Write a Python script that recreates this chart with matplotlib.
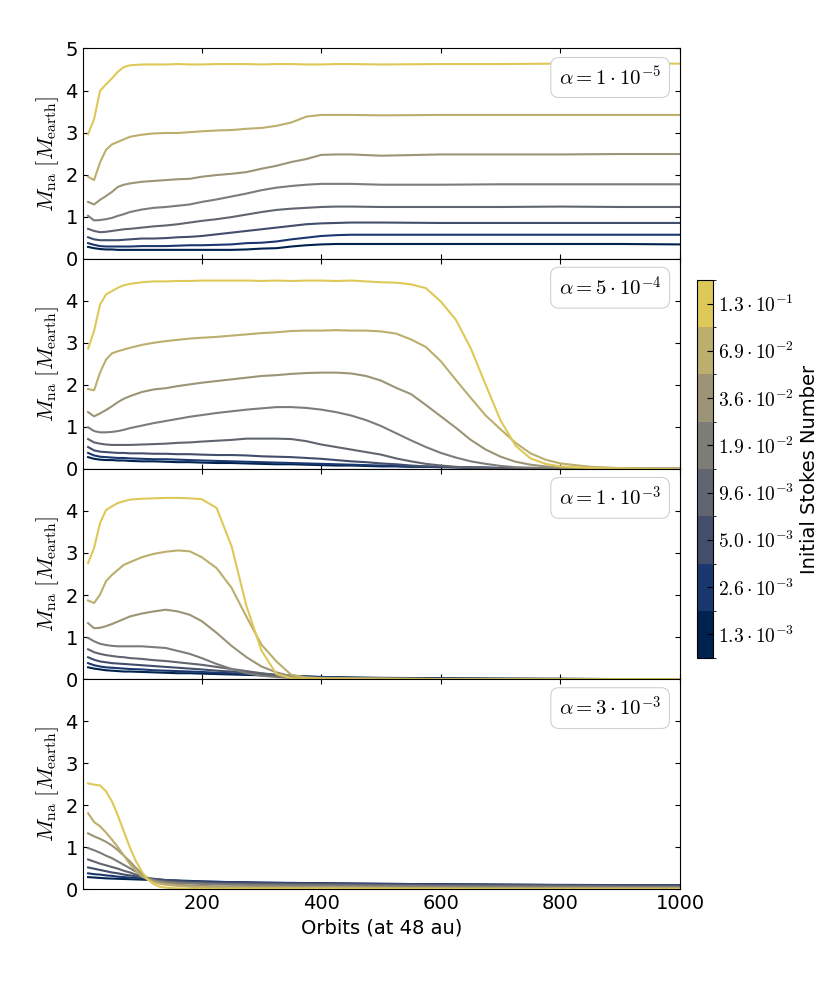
import numpy as np
import matplotlib
matplotlib.use("Agg")
import matplotlib.pyplot as plt
from matplotlib.colors import ListedColormap, BoundaryNorm
from matplotlib.cm import ScalarMappable

plt.rcParams['mathtext.fontset'] = 'cm'
plt.rcParams['font.family'] = ['DejaVu Sans']

# ---------------- data ----------------
stokes_labels = [r'$1.3\cdot10^{-3}$', r'$2.6\cdot10^{-3}$', r'$5.0\cdot10^{-3}$',
                 r'$9.6\cdot10^{-3}$', r'$1.9\cdot10^{-2}$', r'$3.6\cdot10^{-2}$',
                 r'$6.9\cdot10^{-2}$', r'$1.3\cdot10^{-1}$']
alpha_labels = [r'$\alpha = 1\cdot10^{-5}$', r'$\alpha = 5\cdot10^{-4}$',
                r'$\alpha = 1\cdot10^{-3}$', r'$\alpha = 3\cdot10^{-3}$']

# panel 1: alpha = 1e-5
x1 = [10, 20, 30, 40, 50, 60, 70, 80, 100, 120, 140, 160, 180, 200, 225, 250, 275, 300,
      325, 350, 375, 400, 425, 450, 500, 600, 700, 800, 900, 1000]
p1_s1 = [0.28, 0.25, 0.23, 0.22, 0.22, 0.21, 0.21, 0.21, 0.21, 0.21, 0.21, 0.21, 0.21, 0.21, 0.21,
         0.21, 0.22, 0.24, 0.25, 0.29, 0.32, 0.34, 0.35, 0.35, 0.35, 0.35, 0.35, 0.35, 0.35, 0.34]
p1_s2 = [0.37, 0.33, 0.30, 0.29, 0.29, 0.29, 0.29, 0.29, 0.30, 0.30, 0.30, 0.31, 0.32, 0.32, 0.33,
         0.34, 0.37, 0.38, 0.41, 0.46, 0.50, 0.54, 0.56, 0.57, 0.57, 0.57, 0.57, 0.57, 0.57, 0.57]
p1_s3 = [0.51, 0.46, 0.44, 0.44, 0.44, 0.44, 0.45, 0.46, 0.48, 0.48, 0.49, 0.51, 0.52, 0.54, 0.58,
         0.62, 0.66, 0.70, 0.74, 0.78, 0.82, 0.84, 0.85, 0.86, 0.86, 0.85, 0.85, 0.85, 0.85, 0.85]
p1_s4 = [0.71, 0.66, 0.63, 0.64, 0.66, 0.68, 0.70, 0.71, 0.74, 0.77, 0.79, 0.82, 0.86, 0.90, 0.94,
         0.99, 1.05, 1.11, 1.16, 1.19, 1.21, 1.23, 1.24, 1.24, 1.23, 1.23, 1.23, 1.24, 1.23, 1.23]
p1_s5 = [1.02, 0.91, 0.92, 0.94, 0.97, 1.02, 1.06, 1.11, 1.17, 1.21, 1.23, 1.26, 1.29, 1.35, 1.41,
         1.48, 1.55, 1.63, 1.69, 1.73, 1.76, 1.78, 1.78, 1.78, 1.76, 1.76, 1.77, 1.77, 1.77, 1.77]
p1_s6 = [1.35, 1.29, 1.40, 1.49, 1.59, 1.71, 1.76, 1.79, 1.83, 1.85, 1.87, 1.89, 1.90, 1.95, 1.99,
         2.02, 2.06, 2.14, 2.21, 2.30, 2.37, 2.47, 2.48, 2.48, 2.45, 2.48, 2.48, 2.48, 2.49, 2.49]
p1_s7 = [1.95, 1.87, 2.29, 2.59, 2.72, 2.78, 2.84, 2.90, 2.95, 2.98, 2.99, 2.99, 3.01, 3.03, 3.05,
         3.06, 3.09, 3.11, 3.16, 3.24, 3.38, 3.42, 3.42, 3.42, 3.41, 3.42, 3.42, 3.42, 3.42, 3.42]
p1_s8 = [2.96, 3.32, 3.99, 4.15, 4.29, 4.45, 4.56, 4.60, 4.62, 4.62, 4.62, 4.63, 4.62, 4.62, 4.63,
         4.63, 4.63, 4.62, 4.63, 4.63, 4.62, 4.62, 4.63, 4.63, 4.62, 4.63, 4.63, 4.64, 4.64, 4.64]

# panel 2: alpha = 5e-4
x2 = [10, 20, 30, 40, 50, 60, 70, 80, 100, 120, 140, 160, 180, 200, 225, 250, 275, 300, 325,
      350, 375, 400, 425, 450, 475, 500, 525, 550, 575, 600, 625, 650, 675, 700, 725, 750, 775,
      800, 850, 900, 950, 1000]
p2_s1 = [0.28, 0.24, 0.22, 0.21, 0.21, 0.20, 0.20, 0.19, 0.18, 0.18, 0.17, 0.16, 0.16, 0.15,
         0.14, 0.14, 0.13, 0.12, 0.11, 0.11, 0.10, 0.09, 0.08, 0.08, 0.07,
         0.06, 0.06, 0.05, 0.05, 0.04, 0.04, 0.03, 0.03, 0.02, 0.02, 0.02, 0.01, 0.01,
         0.01, 0.0, 0.0, 0.0]
p2_s2 = [0.38, 0.32, 0.29, 0.28, 0.27, 0.26, 0.26, 0.25, 0.24, 0.23, 0.23, 0.22, 0.21, 0.20,
         0.19, 0.18, 0.17, 0.16, 0.15, 0.14, 0.13, 0.12, 0.11, 0.10, 0.09,
         0.08, 0.07, 0.06, 0.05, 0.05, 0.04, 0.03, 0.03, 0.02, 0.02, 0.01, 0.01, 0.01,
         0.0, 0.0, 0.0, 0.0]
p2_s3 = [0.52, 0.44, 0.41, 0.40, 0.39, 0.38, 0.38, 0.37, 0.37, 0.36, 0.36, 0.35, 0.35, 0.34,
         0.33, 0.33, 0.32, 0.30, 0.29, 0.28, 0.26, 0.24, 0.21, 0.18, 0.16,
         0.13, 0.11, 0.08, 0.06, 0.05, 0.04, 0.03, 0.02, 0.02, 0.01, 0.01, 0.01, 0.0,
         0.0, 0.0, 0.0, 0.0]
p2_s4 = [0.71, 0.63, 0.60, 0.58, 0.57, 0.57, 0.57, 0.57, 0.58, 0.59, 0.60, 0.62, 0.63, 0.65,
         0.67, 0.69, 0.72, 0.72, 0.72, 0.71, 0.66, 0.58, 0.52, 0.46, 0.40,
         0.34, 0.25, 0.18, 0.12, 0.08, 0.05, 0.03, 0.02, 0.01, 0.01, 0.0, 0.0, 0.0,
         0.0, 0.0, 0.0, 0.0]
p2_s5 = [0.99, 0.90, 0.87, 0.87, 0.88, 0.90, 0.93, 0.97, 1.03, 1.09, 1.14, 1.19, 1.24, 1.28,
         1.33, 1.37, 1.41, 1.44, 1.47, 1.47, 1.45, 1.41, 1.35, 1.27, 1.16,
         1.02, 0.85, 0.68, 0.52, 0.38, 0.27, 0.18, 0.12, 0.07, 0.04, 0.03, 0.02, 0.01,
         0.0, 0.0, 0.0, 0.0]
p2_s6 = [1.35, 1.25, 1.32, 1.40, 1.49, 1.59, 1.67, 1.73, 1.83, 1.89, 1.92, 1.97, 2.01, 2.05,
         2.09, 2.13, 2.17, 2.21, 2.23, 2.26, 2.28, 2.29, 2.29, 2.27, 2.21,
         2.10, 1.93, 1.78, 1.52, 1.25, 0.98, 0.69, 0.46, 0.29, 0.17, 0.10, 0.06, 0.03,
         0.01, 0.0, 0.0, 0.0]
p2_s7 = [1.90, 1.87, 2.29, 2.60, 2.75, 2.80, 2.84, 2.88, 2.95, 3.00, 3.04, 3.07, 3.10, 3.12,
         3.14, 3.17, 3.20, 3.23, 3.25, 3.28, 3.29, 3.29, 3.30, 3.29, 3.29,
         3.27, 3.22, 3.08, 2.90, 2.56, 2.12, 1.69, 1.27, 0.94, 0.62, 0.37, 0.22, 0.13,
         0.05, 0.02, 0.01, 0.0]
p2_s8 = [2.86, 3.28, 3.91, 4.15, 4.23, 4.31, 4.37, 4.40, 4.44, 4.46, 4.46, 4.47, 4.47, 4.48,
         4.48, 4.48, 4.48, 4.47, 4.48, 4.47, 4.48, 4.48, 4.47, 4.48, 4.46,
         4.44, 4.43, 4.39, 4.30, 3.98, 3.55, 2.87, 2.00, 1.15, 0.55, 0.25, 0.12, 0.06,
         0.02, 0.01, 0.0, 0.0]

# panel 3: alpha = 1e-3
x3 = [10, 20, 30, 40, 50, 60, 70, 80, 100, 120, 140, 160, 180, 200, 225, 250, 275, 300, 325,
      350, 375, 400, 450, 500, 600, 700, 800, 900, 1000]
p3_s1 = [0.28, 0.25, 0.23, 0.21, 0.20, 0.19, 0.18, 0.18, 0.17, 0.16, 0.15, 0.14, 0.14, 0.13,
         0.12, 0.11, 0.10, 0.09, 0.08, 0.07, 0.06, 0.05, 0.04, 0.03, 0.02, 0.01, 0.01, 0.0, 0.0]
p3_s2 = [0.38, 0.33, 0.30, 0.28, 0.27, 0.26, 0.25, 0.24, 0.23, 0.21, 0.20, 0.19, 0.18, 0.17,
         0.15, 0.14, 0.12, 0.11, 0.09, 0.08, 0.06, 0.05, 0.03, 0.02, 0.01, 0.01, 0.0, 0.0, 0.0]
p3_s3 = [0.52, 0.46, 0.42, 0.40, 0.38, 0.37, 0.36, 0.35, 0.33, 0.31, 0.29, 0.27, 0.25, 0.23,
         0.20, 0.18, 0.15, 0.13, 0.10, 0.08, 0.06, 0.04, 0.02, 0.01, 0.01, 0.0, 0.0, 0.0, 0.0]
p3_s4 = [0.71, 0.64, 0.60, 0.57, 0.55, 0.53, 0.52, 0.50, 0.48, 0.45, 0.43, 0.40, 0.37, 0.34,
         0.29, 0.24, 0.19, 0.14, 0.10, 0.06, 0.04, 0.02, 0.01, 0.01, 0.0, 0.0, 0.0, 0.0, 0.0]
p3_s5 = [0.98, 0.90, 0.84, 0.81, 0.79, 0.78, 0.78, 0.78, 0.78, 0.76, 0.74, 0.67, 0.60, 0.50,
         0.36, 0.24, 0.14, 0.08, 0.05, 0.03, 0.02, 0.01, 0.01, 0.0, 0.0, 0.0, 0.0, 0.0, 0.0]
p3_s6 = [1.33, 1.21, 1.22, 1.26, 1.31, 1.37, 1.43, 1.49, 1.56, 1.61, 1.65, 1.61, 1.53, 1.38,
         1.10, 0.79, 0.52, 0.30, 0.16, 0.07, 0.03, 0.01, 0.01, 0.0, 0.0, 0.0, 0.0, 0.0, 0.0]
p3_s7 = [1.87, 1.81, 2.01, 2.33, 2.48, 2.60, 2.72, 2.78, 2.90, 2.98, 3.03, 3.06, 3.04, 2.90,
         2.64, 2.17, 1.48, 0.82, 0.42, 0.10, 0.04, 0.02, 0.01, 0.01, 0.0, 0.0, 0.0, 0.0, 0.0]
p3_s8 = [2.76, 3.12, 3.71, 4.02, 4.11, 4.19, 4.23, 4.27, 4.29, 4.30, 4.31, 4.31, 4.30, 4.28,
         4.07, 3.16, 1.73, 0.68, 0.12, 0.02, 0.01, 0.01, 0.01, 0.01, 0.0, 0.0, 0.0, 0.0, 0.0]

# panel 4: alpha = 3e-3
x4 = [10, 20, 30, 40, 50, 60, 70, 80, 90, 100, 110, 120, 130, 140, 160, 180, 200, 225, 250,
      300, 400, 500, 600, 700, 800, 900, 1000]
p4_s1 = [0.29, 0.28, 0.27, 0.26, 0.255, 0.25, 0.245, 0.24, 0.235, 0.23, 0.225, 0.22, 0.215, 0.21,
         0.20, 0.19, 0.18, 0.175, 0.17, 0.155, 0.14, 0.13, 0.12, 0.11, 0.105, 0.10, 0.095]
p4_s2 = [0.38, 0.36, 0.35, 0.33, 0.32, 0.30, 0.29, 0.28, 0.27, 0.26, 0.25, 0.24, 0.23, 0.22,
         0.21, 0.20, 0.19, 0.18, 0.17, 0.16, 0.145, 0.13, 0.12, 0.11, 0.10, 0.10, 0.095]
p4_s3 = [0.52, 0.49, 0.46, 0.43, 0.40, 0.38, 0.35, 0.33, 0.31, 0.29, 0.27, 0.25, 0.235, 0.22,
         0.20, 0.185, 0.17, 0.16, 0.155, 0.145, 0.13, 0.12, 0.11, 0.105, 0.10, 0.095, 0.09]
p4_s4 = [0.71, 0.66, 0.61, 0.57, 0.53, 0.49, 0.44, 0.40, 0.35, 0.30, 0.26, 0.22, 0.20, 0.18,
         0.16, 0.15, 0.14, 0.13, 0.125, 0.12, 0.11, 0.10, 0.09, 0.085, 0.08, 0.075, 0.07]
p4_s5 = [0.98, 0.93, 0.87, 0.80, 0.74, 0.66, 0.58, 0.50, 0.42, 0.34, 0.27, 0.22, 0.19, 0.17,
         0.15, 0.14, 0.13, 0.12, 0.11, 0.10, 0.09, 0.08, 0.07, 0.065, 0.06, 0.055, 0.05]
p4_s6 = [1.33, 1.26, 1.20, 1.13, 1.04, 0.93, 0.80, 0.66, 0.51, 0.37, 0.26, 0.19, 0.16, 0.14,
         0.11, 0.09, 0.08, 0.07, 0.065, 0.06, 0.05, 0.045, 0.04, 0.035, 0.03, 0.03, 0.03]
p4_s7 = [1.81, 1.60, 1.50, 1.35, 1.18, 1.00, 0.80, 0.60, 0.44, 0.31, 0.23, 0.17, 0.13, 0.11,
         0.08, 0.06, 0.05, 0.04, 0.04, 0.035, 0.03, 0.03, 0.02, 0.02, 0.02, 0.02, 0.02]
p4_s8 = [2.52, 2.49, 2.47, 2.33, 2.09, 1.75, 1.37, 0.99, 0.67, 0.42, 0.23, 0.12, 0.06, 0.04,
         0.02, 0.01, 0.01, 0.01, 0.01, 0.01, 0.01, 0.01, 0.01, 0.0, 0.0, 0.0, 0.0]

panels = [
    (x1, [p1_s1, p1_s2, p1_s3, p1_s4, p1_s5, p1_s6, p1_s7, p1_s8]),
    (x2, [p2_s1, p2_s2, p2_s3, p2_s4, p2_s5, p2_s6, p2_s7, p2_s8]),
    (x3, [p3_s1, p3_s2, p3_s3, p3_s4, p3_s5, p3_s6, p3_s7, p3_s8]),
    (x4, [p4_s1, p4_s2, p4_s3, p4_s4, p4_s5, p4_s6, p4_s7, p4_s8]),
]

# ---------------- figure ----------------
colors = plt.get_cmap('cividis')(np.arange(8) / 8)
cmap = ListedColormap(colors)
norm = BoundaryNorm(np.arange(-0.5, 8.5, 1.0), 8)

fig = plt.figure(figsize=(8.3, 9.88), dpi=100)
left, right = 82.7 / 830, 680 / 830
top, bottom = 1 - 48.5 / 988, 1 - 889.3 / 988
h = (top - bottom) / 4
axes = []
for i in range(4):
    ax = fig.add_axes([left, top - (i + 1) * h, right - left, h],
                      sharex=axes[0] if axes else None)
    axes.append(ax)

for i, (ax, (xs, series)) in enumerate(zip(axes, panels)):
    for j, ys in enumerate(series):
        ax.plot(xs, ys, color=colors[j], lw=1.5)
    ax.set_xlim(1, 1000)
    ax.set_ylim(0, 5)
    ax.set_yticks([0, 1, 2, 3, 4, 5] if i == 0 else [0, 1, 2, 3, 4])
    ax.tick_params(direction='in', top=True, right=True, labelsize=14)
    ax.set_ylabel(r'$M_{\rm na}\ [M_{\rm earth}]$', fontsize=16, labelpad=3)
    ax.text(0.883, 0.862, alpha_labels[i], transform=ax.transAxes, fontsize=15,
            ha='center', va='center',
            bbox=dict(boxstyle='round,pad=0.4', fc='white', ec='0.82', lw=0.8))
    if i < 3:
        ax.tick_params(labelbottom=False)

axes[-1].set_xticks([200, 400, 600, 800, 1000])
axes[-1].set_xlabel('Orbits (at 48 au)', fontsize=14, labelpad=4)

cax = fig.add_axes([697 / 830, 1 - 658 / 988, 16 / 830, 378 / 988])
sm = ScalarMappable(norm=norm, cmap=cmap)
cb = fig.colorbar(sm, cax=cax, ticks=np.arange(8))
cb.set_ticklabels(stokes_labels)
cb.ax.tick_params(direction='in', labelsize=14, length=4)
cb.set_label('Initial Stokes Number', fontsize=14)

fig.savefig('out.png', dpi=100)
